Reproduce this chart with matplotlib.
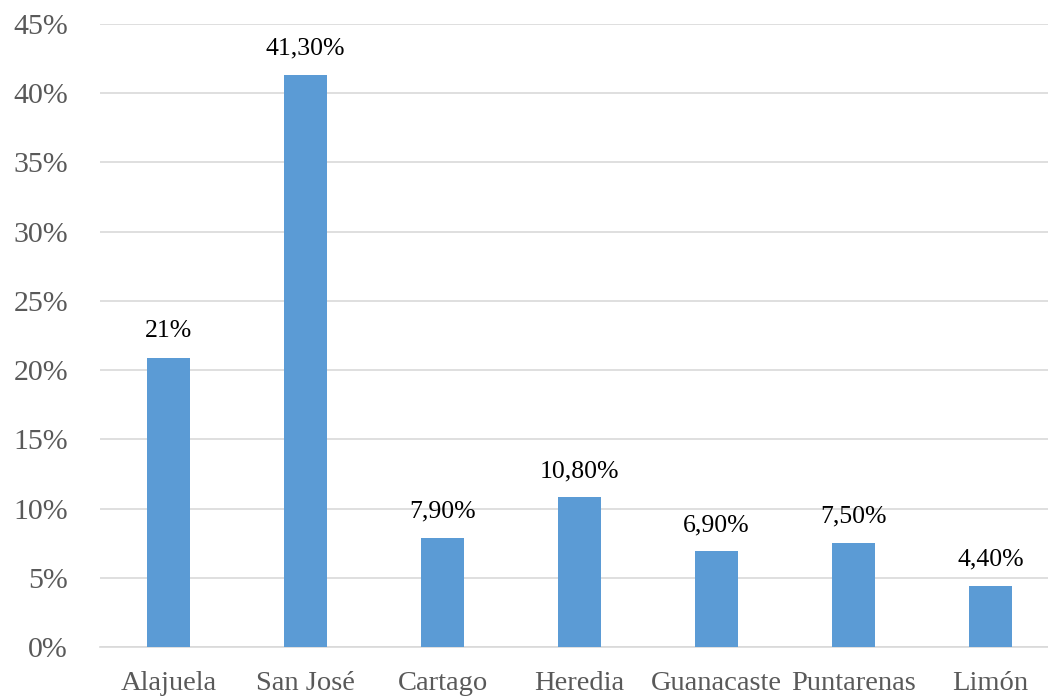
import numpy as np
import matplotlib.pyplot as plt
from matplotlib.ticker import FuncFormatter

provincias = ['Alajuela', 'San José', 'Cartago', 'Heredia', 'Guanacaste', 'Puntarenas', 'Limón']
porcentajes = [20.9, 41.3, 7.9, 10.8, 6.9, 7.5, 4.4]
etiquetas = ['21%', '41,30%', '7,90%', '10,80%', '6,90%', '7,50%', '4,40%']

plt.rcParams['font.family'] = ['Liberation Serif', 'DejaVu Serif']

fig = plt.figure(figsize=(10.48, 6.96), dpi=100)
# axes runs slightly past the right edge, like the cropped original
ax = fig.add_axes([100 / 1048, 1 - 647 / 696, 959 / 1048, 623 / 696])

x = np.arange(len(provincias))
bars = ax.bar(x, porcentajes, width=0.314, color='#5B9BD5', zorder=3)

for b, txt in zip(bars, etiquetas):
    ax.annotate(txt, (b.get_x() + b.get_width() / 2, b.get_height()),
                xytext=(0, 11), textcoords='offset points',
                ha='center', va='bottom', fontsize=18.5, color='black')

ax.set_xlim(-0.5, len(provincias) - 0.5)
ax.set_ylim(0, 45)
ax.set_yticks(np.arange(0, 46, 5))
ax.yaxis.set_major_formatter(FuncFormatter(lambda v, p: f'{v:.0f}%'))
ax.set_xticks(x)
ax.set_xticklabels(provincias)

ax.grid(axis='y', color='#D9D9D9', linewidth=1.2, zorder=0)
for s in ['top', 'right', 'left']:
    ax.spines[s].set_visible(False)
ax.spines['bottom'].set_color('#D9D9D9')
ax.spines['bottom'].set_linewidth(1.2)

ax.tick_params(axis='y', length=0, pad=23, labelsize=21.5, labelcolor='#595959')
ax.tick_params(axis='x', length=0, pad=17, labelsize=20.5, labelcolor='#595959')

plt.savefig('out.png', dpi=100)
